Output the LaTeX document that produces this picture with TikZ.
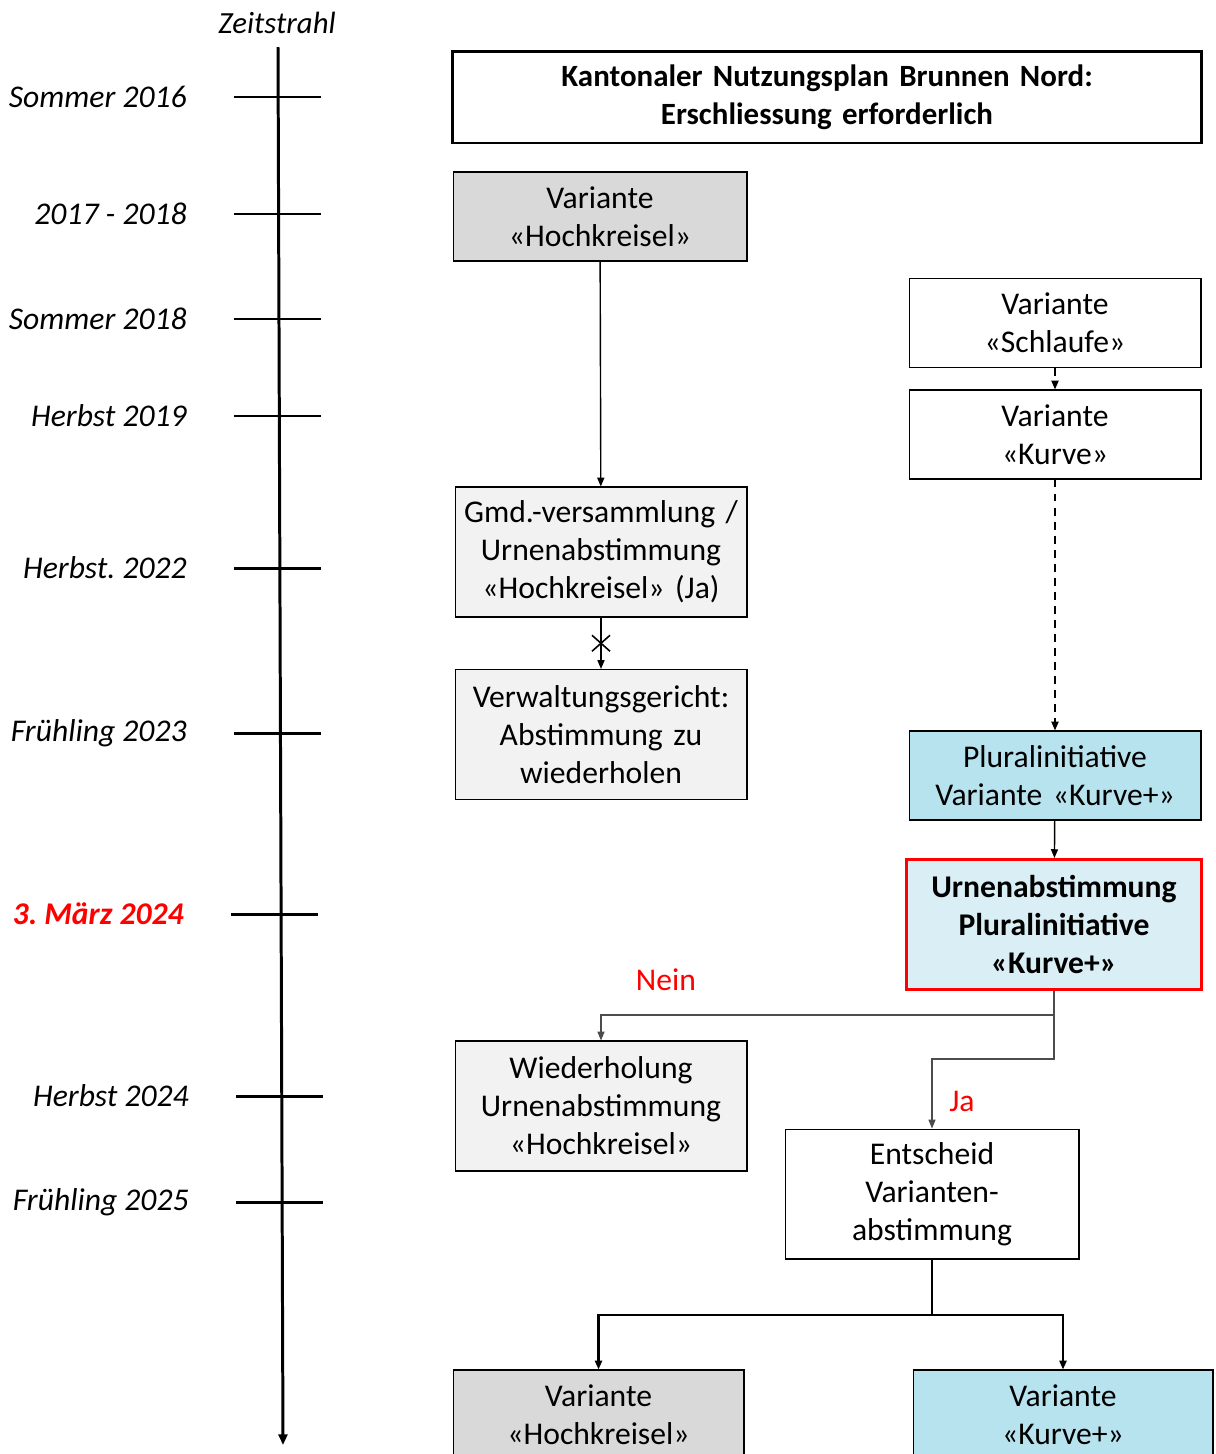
\documentclass[tikz,border=0pt]{standalone}
\usepackage{fontspec}
\setmainfont{Carlito}
\usetikzlibrary{arrows.meta}
\definecolor{boxgray}{HTML}{D9D9D9}
\definecolor{boxlight}{HTML}{F2F2F2}
\definecolor{boxblue}{HTML}{B7E3EE}
\definecolor{boxpale}{HTML}{DAEFF5}
\frenchspacing
\begin{document}
\begin{tikzpicture}[x=0.02cm, y=-0.02cm,
    box/.style={draw, line width=0.6pt, shape=rectangle, align=center, inner sep=0pt,
        text width=5.7cm, minimum width=5.84cm, minimum height=1.78cm,
        font=\fontsize{18}{21.6}\selectfont},
    tall/.style={minimum height=2.6cm},
    when/.style={anchor=east, inner sep=0pt, font=\fontsize{18}{20}\selectfont\itshape},
    tick/.style={line width=1.7pt},
    link/.style={line width=0.8pt, -{Triangle[length=5pt, width=4pt]}},
    dashlink/.style={link, line width=1pt, dash pattern=on 4.5pt off 3.5pt},
    answer/.style={red, font=\fontsize{18}{20}\selectfont}]
\useasboundingbox (0,0) rectangle (1215,1454);

% timeline
\node[font=\fontsize{17.5}{20}\selectfont\itshape] (zt) at (277,23) {Zeitstrahl};
\coordinate (ztTop) at (278,47);
\coordinate (ztBot) at (283,1445);
\draw[line width=1.7pt, -{Triangle[length=6pt, width=5pt]}] (ztTop) -- (ztBot);

\draw[tick] (234,97) -- (321,97);
\draw[tick] (234,214) -- (321,214);
\draw[tick] (234,319) -- (321,319);
\draw[tick] (234,416) -- (321,416);
\draw[tick] (234,568) -- (321,568);
\draw[tick] (234,733) -- (321,733);
\draw[tick] (231,914) -- (318,914);
\draw[tick] (236,1096) -- (323,1096);
\draw[tick] (236,1202) -- (323,1202);

\node[when] (t1) at (187,97) {Sommer 2016};
\node[when] (t2) at (187,214) {2017 - 2018};
\node[when] (t3) at (187,319) {Sommer 2018};
\node[when] (t4) at (187,416) {Herbst 2019};
\node[when] (t5) at (187,568) {Herbst. 2022};
\node[when] (t6) at (187,733) {Frühling 2023};
\node[when, red, font=\fontsize{18}{20}\selectfont\bfseries\itshape] (t7) at (184,914) {3. März 2024};
\node[when] (t8) at (189,1096) {Herbst 2024};
\node[when] (t9) at (189,1202) {Frühling 2025};

% boxes
\node[box, line width=1.7pt, text width=14.6cm, minimum width=15cm, minimum height=1.84cm,
    font=\fontsize{17.6}{21.6}\selectfont\bfseries] (title) at (827,97)
    {Kantonaler Nutzungsplan Brunnen Nord:\\Erschliessung erforderlich};
\node[box, fill=boxgray, minimum width=5.88cm] (hk) at (600,216.5) {Variante\\«Hochkreisel»};
\node[box] (schlaufe) at (1055,323) {Variante\\«Schlaufe»};
\node[box] (kurve) at (1055,434.5) {Variante\\«Kurve»};
\node[box, tall, fill=boxlight] (gmd) at (601,552) {Gmd.-versammlung /\\Urnenabstimmung\\«Hochkreisel» (Ja)};
\node[box, tall, fill=boxlight] (vg) at (601,734.5) {Verwaltungsgericht:\\Abstimmung zu\\wiederholen};
\node[box, fill=boxblue] (plural) at (1055,775.5) {Pluralinitiative\\Variante «Kurve+»};
\node[box, tall, fill=boxpale, draw=red, line width=1.7pt, minimum width=5.92cm,
    font=\fontsize{18}{21.6}\selectfont\bfseries] (urne) at (1054,924.5)
    {Urnenabstimmung\\Pluralinitiative\\«Kurve+»};
\node[box, tall, fill=boxlight] (wdh) at (601,1106) {Wiederholung\\Urnenabstimmung\\«Hochkreisel»};
\node[box, tall, minimum width=5.88cm] (entscheid) at (932,1194) {Entscheid\\Varianten-\\abstimmung};
\node[box, fill=boxgray, minimum width=5.82cm] (hkEnd) at (598.5,1414.5) {Variante\\«Hochkreisel»};
\node[box, fill=boxblue, minimum width=6cm] (kpEnd) at (1063,1414.5) {Variante\\«Kurve+»};

% connectors
\draw[link] (hk) -- (gmd);
\draw[link] (gmd) -- coordinate[midway] (stop) (vg);
\draw[line width=0.9pt] ([shift={(-9,-8)}]stop) -- ([shift={(9,8)}]stop);
\draw[line width=0.9pt] ([shift={(-9,8)}]stop) -- ([shift={(9,-8)}]stop);
\draw[dashlink] (schlaufe) -- (kurve);
\draw[dashlink] (kurve) -- (plural);
\draw[link] (plural) -- (urne);

\coordinate (nein) at (1054,1015);
\coordinate (ja) at (1054,1059);
\draw[link, line width=0.6pt, gray!60!black] (urne.south) -- (nein) -| (wdh.north);
\draw[link, line width=0.6pt, gray!60!black] (nein) -- (ja) -| (entscheid.north);
\node[answer] (neinLbl) at (666,980) {Nein};
\node[answer] (jaLbl) at (962,1101) {Ja};

\coordinate (split) at (932,1315);
\draw[line width=1.2pt] (entscheid.south) -- (split);
\draw[link, line width=1.2pt] (split) -| (hkEnd.north);
\draw[link, line width=1.2pt] (split) -| (kpEnd.north);
\end{tikzpicture}
\end{document}
